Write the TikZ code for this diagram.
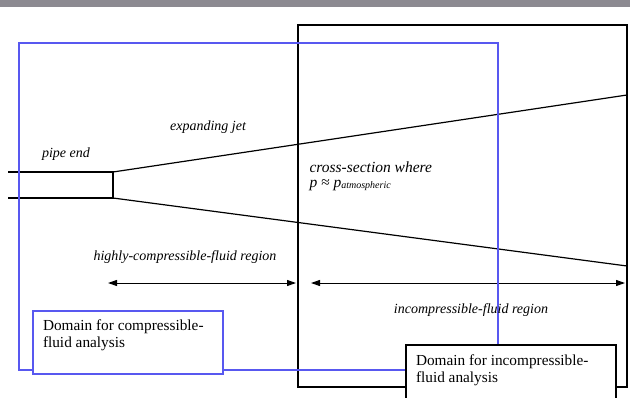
\documentclass[tikz,border=0pt]{standalone}
\usepackage{fontspec}
\setmainfont{Liberation Serif}
\usetikzlibrary{arrows.meta}
\definecolor{domblue}{RGB}{88,88,240}
\definecolor{bandgray}{RGB}{140,138,145}

\begin{document}
\begin{tikzpicture}[x=1pt, y=-1pt, line width=1.2pt,
        lbl/.style = {font=\itshape\fontsize{14}{16}\selectfont},
        dom/.style = {draw, fill=white, line width=2pt, anchor=north west, inner xsep=10pt, inner ysep=9pt, font=\fontsize{15.3}{17}\selectfont},
        span/.style = {{Triangle[length=9pt,width=6pt]}-{Triangle[length=9pt,width=6pt]}, line width=1pt}]
    \useasboundingbox (0,0) rectangle (630,397);
    \fill[bandgray] (0,0) rectangle (630,7);
    % pipe and jet
    \coordinate (pipeA) at (8,172);
    \coordinate (pipeB) at (8,198);
    \coordinate (mouthA) at (113,172);
    \coordinate (mouthB) at (113,198);
    \coordinate (jetA) at (627,95);
    \coordinate (jetB) at (627,266);
    \draw (pipeA) -- (mouthA) -- (mouthB) -- (pipeB);
    \draw (mouthA) -- (jetA);
    \draw (mouthB) -- (jetB);
    % regions
    \coordinate (cL) at (108,283);
    \coordinate (cR) at (296,283);
    \coordinate (iL) at (311,283);
    \coordinate (iR) at (625,283);
    \draw[span] (cL) -- (cR);
    \draw[span] (iL) -- (iR);
    % domains
    \draw[line width=2.5pt] (298,25) rectangle (627,387);
    \draw[domblue, line width=2.5pt] (19,43) rectangle (498,370);
    \node[dom, draw=domblue] (cdom) at (32,310) {\parbox[t][45pt][t]{170pt}{Domain for compressible-\\fluid analysis}};
    \node[dom, inner ysep=10pt] (idom) at (405,344) {\parbox[t][50pt][t]{190pt}{Domain for incompressible-\\fluid analysis}};
    % labels
    \node[lbl] (pipe) at (66,154) {pipe end};
    \node[lbl] (jet) at (208,127) {expanding jet};
    \node[lbl, font=\itshape\fontsize{15.5}{16}\selectfont, anchor=west, align=left, inner sep=0pt] (cross) at (309,176) {cross-section where\\[-1pt] p ≈ p\raisebox{-1.5pt}{\fontsize{10}{11}\selectfont atmospheric}};
    \node[lbl] (creg) at (185,257) {highly-compressible-fluid region};
    \node[lbl] (ireg) at (471,310) {incompressible-fluid region};
\end{tikzpicture}
\end{document}
